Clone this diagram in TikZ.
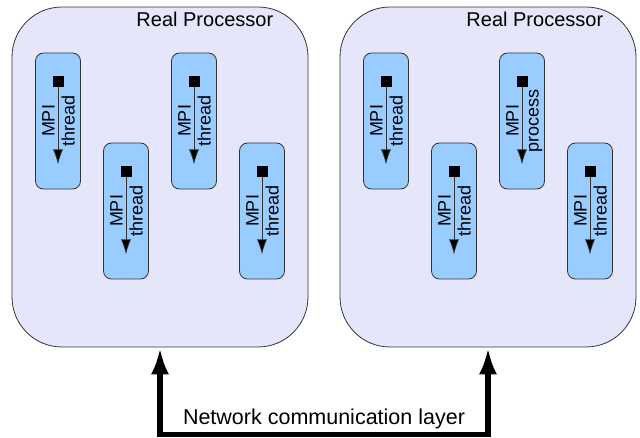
\documentclass[tikz,border=0pt]{standalone}
\usepackage{fontspec}
\setmainfont{Liberation Sans}
\usetikzlibrary{positioning,arrows.meta}
\definecolor{procfill}{HTML}{E6E6FA}
\definecolor{threadfill}{HTML}{99CCFF}
\definecolor{edge}{HTML}{333333}
\begin{document}
\begin{tikzpicture}[x=1pt, y=-1pt,
    proc/.style={draw=edge, fill=procfill, rounded corners=50pt, minimum width=296pt, minimum height=340pt, line width=0.8pt},
    ptitle/.style={font=\fontsize{20}{24}\selectfont, inner sep=0pt, anchor=east},
    thread/.style={draw=edge, fill=threadfill, rounded corners=8pt, minimum width=45pt, minimum height=136pt, line width=0.8pt},
    sq/.style={fill=black, minimum size=11pt, inner sep=0pt},
    flow/.style={draw=black!80, line width=0.8pt, -{Latex[length=15pt,width=10pt,fill=black]}},
    lbl/.style={font=\fontsize{18}{21}\selectfont, rotate=90, inner sep=0pt, anchor=base},
    net/.style={line width=5.5pt, {Latex[length=27pt,width=18pt]}-{Latex[length=27pt,width=18pt]}},
    nettext/.style={font=\fontsize{21.5}{25}\selectfont, inner sep=0pt}]
      \useasboundingbox (0,0) rectangle (640,438);

      % real processors
      \node[proc] at (160,177) (p1) {};
      \node[proc] at (488,177) (p2) {};
      \node[ptitle] at ([xshift=-35pt, yshift=-13pt]p1.north east) (r1) {Real Processor};
      \node[ptitle] at ([xshift=-33pt, yshift=-13pt]p2.north east) (r2) {Real Processor};

      % MPI threads, left processor
      \node[thread] at (58,121)  (t1) {};
      \node[thread] at (126,211) (t2) {};
      \node[thread] at (194,121) (t3) {};
      \node[thread] at (262,211) (t4) {};
      % right processor
      \node[thread] at (386,121) (t5) {};
      \node[thread] at (454,211) (t6) {};
      \node[thread] at (522,121) (t7) {};
      \node[thread] at (590,211) (t8) {};

      \node[sq, below=23pt of t1.north] (s1) {};
      \node[sq, below=23pt of t2.north] (s2) {};
      \node[sq, below=23pt of t3.north] (s3) {};
      \node[sq, below=23pt of t4.north] (s4) {};
      \node[sq, below=23pt of t5.north] (s5) {};
      \node[sq, below=23pt of t6.north] (s6) {};
      \node[sq, below=23pt of t7.north] (s7) {};
      \node[sq, below=23pt of t8.north] (s8) {};

      \coordinate[above=25pt of t1.south] (e1);
      \coordinate[above=25pt of t2.south] (e2);
      \coordinate[above=25pt of t3.south] (e3);
      \coordinate[above=25pt of t4.south] (e4);
      \coordinate[above=25pt of t5.south] (e5);
      \coordinate[above=25pt of t6.south] (e6);
      \coordinate[above=25pt of t7.south] (e7);
      \coordinate[above=25pt of t8.south] (e8);

      \draw[flow] (s1) -- (e1);
      \draw[flow] (s2) -- (e2);
      \draw[flow] (s3) -- (e3);
      \draw[flow] (s4) -- (e4);
      \draw[flow] (s5) -- (e5);
      \draw[flow] (s6) -- (e6);
      \draw[flow] (s7) -- (e7);
      \draw[flow] (s8) -- (e8);

      \node[lbl] at ([xshift=-3.5pt]t1.center) (m1) {MPI};
      \node[lbl] at ([xshift=16.5pt]t1.center) (k1) {thread};
      \node[lbl] at ([xshift=-3.5pt]t2.center) (m2) {MPI};
      \node[lbl] at ([xshift=16.5pt]t2.center) (k2) {thread};
      \node[lbl] at ([xshift=-3.5pt]t3.center) (m3) {MPI};
      \node[lbl] at ([xshift=16.5pt]t3.center) (k3) {thread};
      \node[lbl] at ([xshift=-3.5pt]t4.center) (m4) {MPI};
      \node[lbl] at ([xshift=16.5pt]t4.center) (k4) {thread};
      \node[lbl] at ([xshift=-3.5pt]t5.center) (m5) {MPI};
      \node[lbl] at ([xshift=16.5pt]t5.center) (k5) {thread};
      \node[lbl] at ([xshift=-3.5pt]t6.center) (m6) {MPI};
      \node[lbl] at ([xshift=16.5pt]t6.center) (k6) {thread};
      \node[lbl] at ([xshift=-3.5pt]t7.center) (m7) {MPI};
      \node[lbl] at ([xshift=16.5pt]t7.center) (k7) {process};
      \node[lbl] at ([xshift=-3.5pt]t8.center) (m8) {MPI};
      \node[lbl] at ([xshift=16.5pt]t8.center) (k8) {thread};

      % network layer
      \coordinate (base) at (0,434.5);
      \draw[net] (p1.south) -- (p1.south |- base)
          -- node[nettext, above=2.5pt] (nl) {Network communication layer} (p2.south |- base)
          -- (p2.south);
    \end{tikzpicture}
\end{document}
